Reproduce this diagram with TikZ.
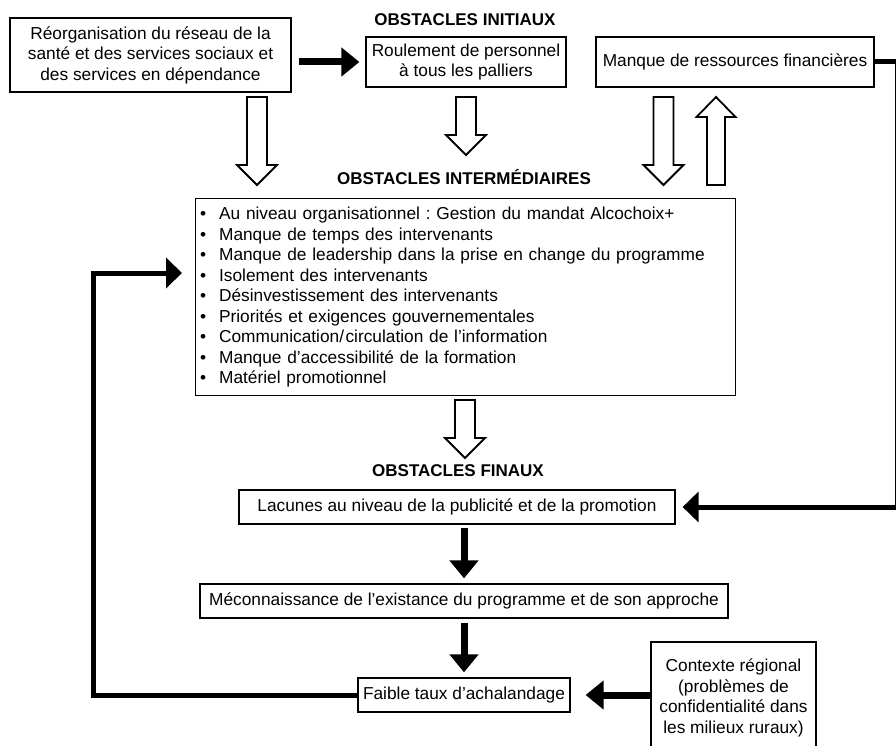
\documentclass[tikz,border=0pt]{standalone}
\usepackage{fontspec}
\setmainfont{Liberation Sans}
\usetikzlibrary{arrows.meta,calc}
\frenchspacing

% fleche creuse vers le bas / vers le haut
\newcommand{\creusebas}[2]{%
  \draw[creuse] let \p1=#1, \p2=#2 in
    (\x1-10pt,\y1) -- (\x1-10pt,\y2+20pt) -- (\x1-20pt,\y2+20pt) -- (\x1,\y2)
    -- (\x1+20pt,\y2+20pt) -- (\x1+10pt,\y2+20pt) -- (\x1+10pt,\y1) -- cycle;}
\newcommand{\creusehaut}[2]{%
  \draw[creuse] let \p1=#1, \p2=#2 in
    (\x1-9pt,\y1) -- (\x1-9pt,\y2-20pt) -- (\x1-19.5pt,\y2-20pt) -- (\x1,\y2)
    -- (\x1+19.5pt,\y2-20pt) -- (\x1+9pt,\y2-20pt) -- (\x1+9pt,\y1) -- cycle;}

\begin{document}
\begin{tikzpicture}[x=1pt, y=-1pt,
  every node/.style={font=\fontsize{17.3}{20.5}\selectfont},
  boite/.style={draw, line width=1.2pt, inner sep=0pt, align=center},
  titre/.style={font=\fontsize{17}{20.5}\selectfont\bfseries},
  fleche/.style={line width=7pt, -{Triangle[width=28pt,length=18pt]}},
  boucle/.style={line width=5pt, -{Triangle[width=30pt,length=16pt]}},
  creuse/.style={line width=1.8pt, line join=miter, fill=white}]
\useasboundingbox (0,0) rectangle (896,746);

% obstacles initiaux
\node[titre] (tinit) at (465,20) {OBSTACLES INITIAUX};
\node[boite, minimum width=281, minimum height=74] (reorg) at (150.5,55)
  {Réorganisation du réseau de la\\santé et des services sociaux et\\des services en dépendance};
\node[boite, minimum width=200, minimum height=50] (roul) at (466,62)
  {Roulement de personnel\\à tous les palliers};
\node[boite, minimum width=278, minimum height=50] (manque) at (735,62)
  {Manque de ressources financières};

\draw[fleche] ($(reorg.east |- roul.west)+(7,0)$) -- ($(roul.west)+(-6,0)$);

\creusebas{(257,97)}{(257,185)}
\creusebas{(466,97)}{(466,155)}
\creusebas{(663.5,97)}{(663.5,185)}
\creusehaut{(716,185)}{(716,97)}

% obstacles intermediaires
\node[titre] (tinter) at (464,177) {OBSTACLES INTERMÉDIAIRES};
\node[boite, anchor=north west, minimum width=540, minimum height=197,
  text width=531, inner xsep=4.5, align=left] (inter) at (195,198)
  {\makebox[19pt][l]{\textbullet}Au niveau organisationnel : Gestion du mandat Alcochoix+\\
   \makebox[19pt][l]{\textbullet}Manque de temps des intervenants\\
   \makebox[19pt][l]{\textbullet}Manque de leadership dans la prise en change du programme\\
   \makebox[19pt][l]{\textbullet}Isolement des intervenants\\
   \makebox[19pt][l]{\textbullet}Désinvestissement des intervenants\\
   \makebox[19pt][l]{\textbullet}Priorités et exigences gouvernementales\\
   \makebox[19pt][l]{\textbullet}Communication/\hspace{1.5pt}circulation de l’information\\
   \makebox[19pt][l]{\textbullet}Manque d’accessibilité de la formation\\
   \makebox[19pt][l]{\textbullet}Matériel promotionnel};

\creusebas{(465,400)}{(465,458)}

% obstacles finaux
\node[titre] (tfin) at (458,471) {OBSTACLES FINAUX};
\node[boite, minimum width=436, minimum height=34] (lacunes) at (457,507)
  {Lacunes au niveau de la publicité et de la promotion};
\node[boite, minimum width=528, minimum height=34] (mecon) at (464,601)
  {Méconnaissance de l’existance du programme et de son approche};
\node[boite, minimum width=212, minimum height=34] (faible) at (464,695)
  {Faible taux d’achalandage};
\node[boite, minimum width=165, minimum height=112] (contexte) at (733.5,698)
  {Contexte régional\\(problèmes de\\confidentialité dans\\les milieux ruraux)};

\draw[fleche] ($(mecon.north |- lacunes.south)+(0,3)$) -- ($(mecon.north)+(0,-5)$);
\draw[fleche] ($(mecon.south)+(0,4)$) -- ($(faible.north)+(0,-5)$);
\draw[fleche] (contexte.west |- faible) -- ($(faible.east)+(15,0)$);

% boucles
\coordinate (droite) at (897,62);
\coordinate (retour) at (93,273);
\draw[boucle] (manque.east) -- (droite) |- ($(lacunes.east)+(7,0)$);
\draw[boucle, shorten >=13pt] (faible.west) -| (retour) -- (inter.west |- retour);
\end{tikzpicture}
\end{document}
